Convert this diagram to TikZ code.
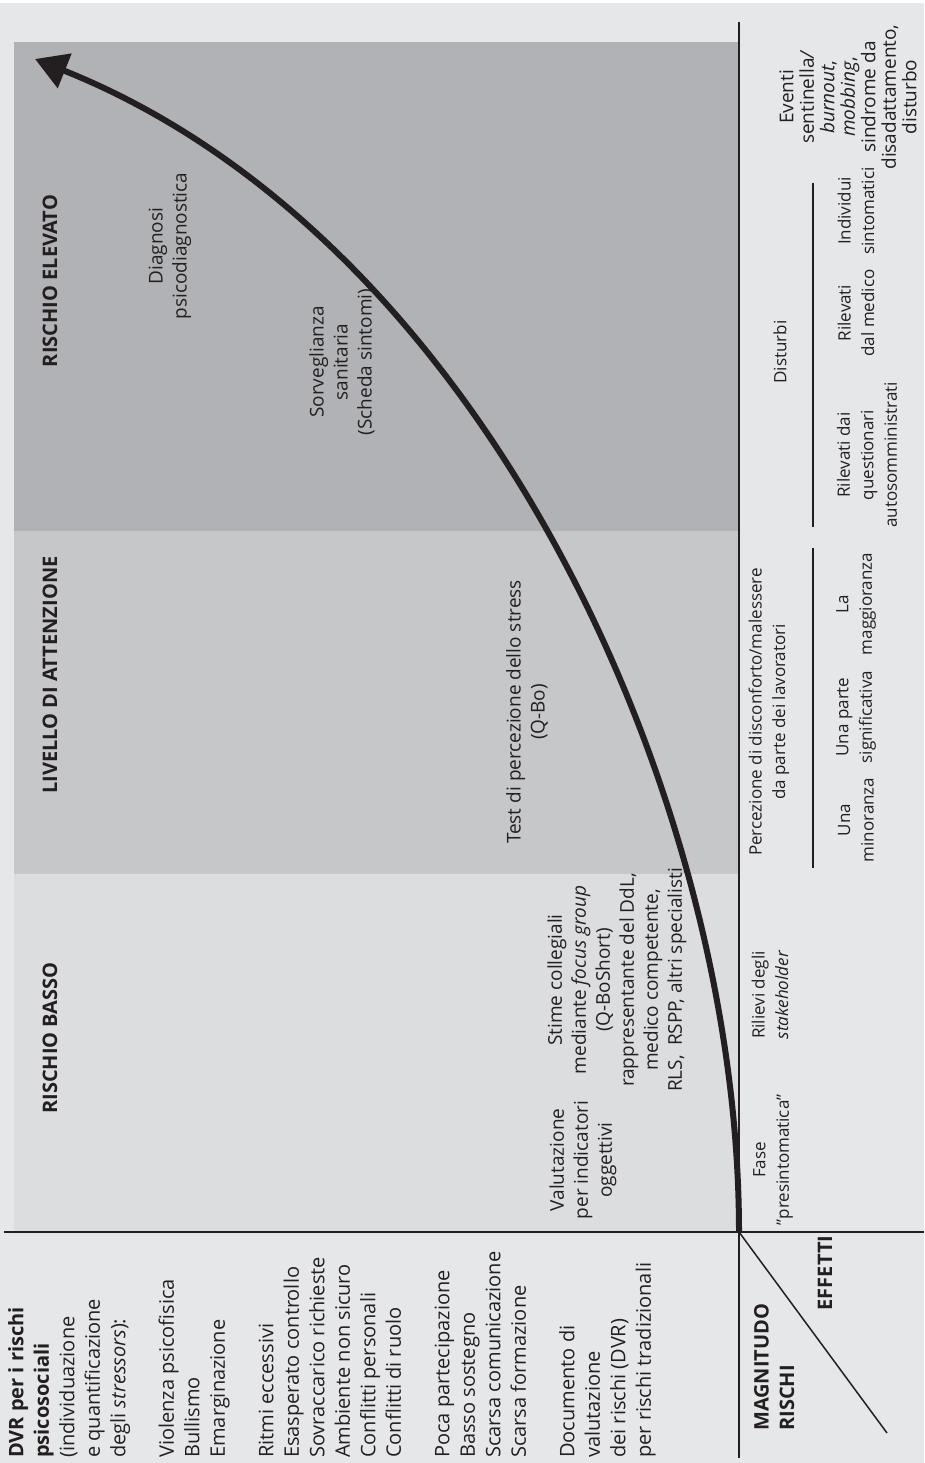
\documentclass[tikz,border=0pt]{standalone}
\usepackage{fontspec}
\setmainfont{Open Sans}
\usetikzlibrary{arrows.meta}

\definecolor{paper}{HTML}{E6E7E9}
\definecolor{bandlow}{HTML}{DCDDDF}
\definecolor{bandmid}{HTML}{C6C7C9}
\definecolor{bandhigh}{HTML}{B1B2B5}
\definecolor{ink}{HTML}{231F20}

\newcommand{\txtsize}{\fontsize{20}{25.5}\selectfont}
\newcommand{\bandsize}{\fontsize{19}{24}\selectfont}
\newcommand{\effsize}{\fontsize{17}{23.5}\selectfont}
\newcommand{\tightsize}{\fontsize{19}{20.5}\selectfont}

\begin{document}
\begin{tikzpicture}[x=1pt, y=-1pt,
    lbl/.style={rotate=90, inner sep=0pt, align=center, text=ink, font=\bandsize},
    efflbl/.style={lbl, font=\effsize},
    headlbl/.style={lbl, font=\txtsize\bfseries},
    axisline/.style={draw=ink, line width=2.4pt},
    rule/.style={draw=ink, line width=1.2pt},
    riskcurve/.style={draw=ink, line width=6pt,
      -{Triangle[length=32pt, width=36pt]}}]

    % page
    \fill[paper] (0,0) rectangle (924,1463);
    \fill[white] (0,0) rectangle (924,3);
    \useasboundingbox (0,0) rectangle (924,1463);

    % risk bands
    \fill[bandhigh] (14,42) rectangle (739,531);
    \fill[bandmid] (14,531) rectangle (739,874);
    \fill[bandlow] (14,874) rectangle (739,1231);

    \node[headlbl] (high) at (50,281) {RISCHIO ELEVATO};
    \node[headlbl] (mid) at (50,675) {LIVELLO DI ATTENZIONE};
    \node[headlbl] (low) at (50,1038) {RISCHIO BASSO};

    % axes
    \coordinate (origin) at (739,1232);
    \coordinate (ytop) at (739,22);
    \coordinate (ybot) at (739,1458);
    \coordinate (xleft) at (4,1232);
    \coordinate (xright) at (924,1232);
    \coordinate (diag) at (887,1433);
    \draw[axisline] (ytop) -- (ybot);
    \draw[axisline, line width=2.1pt] (xleft) -- (xright);
    \draw[ink, line width=1.5pt] (origin) -- (diag);

    \node[headlbl, align=left, anchor=north west] (magn) at (754,1431)
      {MAGNITUDO\\RISCHI};
    \node[headlbl] (eff) at (825,1273) {EFFETTI};

    % stressors, under the x axis
    \node[lbl, font=\txtsize, align=left, anchor=north west] (stressors) at (8,1458)
      {\textbf{DVR per i rischi}\\
       \textbf{psicosociali}\\
       (individuazione\\
       e quantificazione\\
       degli \textit{stressors}):\\[23pt]
       Violenza psicofisica\\
       Bullismo\\
       Emarginazione\\[23pt]
       Ritmi eccessivi\\
       Esasperato controllo\\
       Sovraccarico richieste\\
       Ambiente non sicuro\\
       Conflitti personali\\
       Conflitti di ruolo\\[23pt]
       Poca partecipazione\\
       Basso sostegno\\
       Scarsa comunicazione\\
       Scarsa formazione\\[23pt]
       Documento di\\
       valutazione\\
       dei rischi (DVR)\\
       per rischi tradizionali};

    % tools inside the bands
    \node[lbl] (diagnosi) at (170,246) {Diagnosi\\psicodiagnostica};
    \node[lbl] (sorv) at (342,362) {Sorveglianza\\sanitaria\\(Scheda sintomi)};
    \node[lbl] (test) at (527,712) {Test di percezione dello stress\\(Q-Bo)};
    \node[lbl] (valut) at (583,1160) {Valutazione\\per indicatori\\oggettivi};
    \node[lbl] (stime) at (617,980)
      {Stime collegiali\\
       mediante \textit{focus group}\\
       (Q-BoShort)\\
       rappresentante del DdL,\\
       medico competente,\\
       RLS,\enspace RSPP, altri specialisti};

    % effects, right of the y axis
    \node[efflbl] (fase) at (773,1160) {Fase\\”presintomatica”};
    \node[efflbl] (rilievi) at (770,995) {Rilievi degli\\\textit{stakeholder}};
    \node[efflbl] (percez) at (769,712)
      {Percezione di disconforto/malessere\\da parte dei lavoratori};
    \node[efflbl] (disturbi) at (780,352) {Disturbi};
    \node[lbl, font=\tightsize] (eventi) at (848,97)
      {Eventi\\sentinella\textit{/}\\\textit{burnout},\\\textit{mobbing},\\
       sindrome da\\disadattamento,\\disturbo};

    \draw[rule] (813,548) -- (813,868);
    \draw[rule] (813,183) -- (813,527);

    \node[efflbl] (minor) at (856,820) {Una\\minoranza};
    \node[efflbl] (signif) at (856,717) {Una parte\\significativa};
    \node[efflbl] (maggior) at (856,604) {La\\maggioranza};
    \node[efflbl] (quest) at (867,455) {Rilevati dai\\questionari\\autosomministrati};
    \node[efflbl] (medico) at (856,313) {Rilevati\\dal medico};
    \node[efflbl] (sintom) at (856,211) {Individui\\sintomatici};

    % growth of the risk
    \coordinate (tip) at (35,59);
    \draw[riskcurve] (origin) .. controls (739,800) and (485,239) .. (tip);
\end{tikzpicture}
\end{document}
